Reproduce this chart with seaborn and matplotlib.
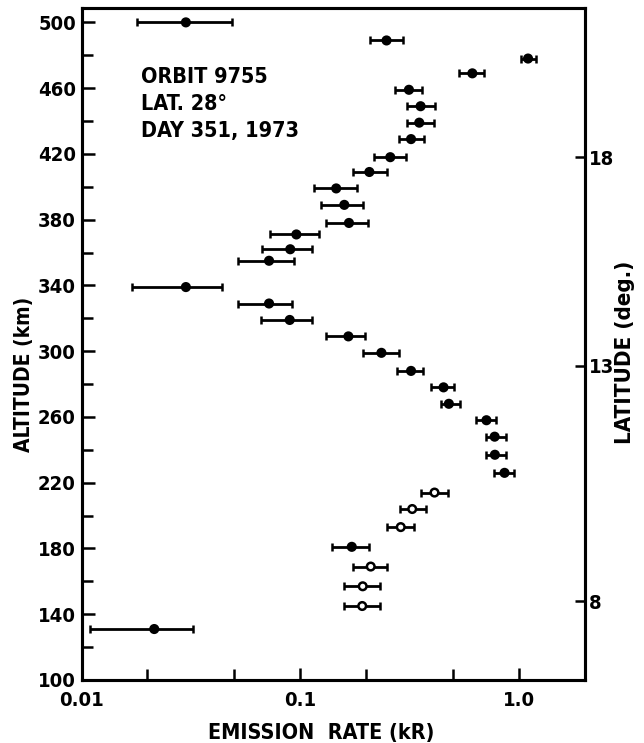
import numpy as np
import pandas as pd
import seaborn as sns
import matplotlib.pyplot as plt
from matplotlib.ticker import FixedLocator, NullFormatter, NullLocator

sns.set_style('ticks', {'axes.edgecolor': 'black', 'text.color': 'black',
                        'axes.labelcolor': 'black', 'xtick.color': 'black', 'ytick.color': 'black'})
plt.rcParams['font.family'] = ['DejaVu Sans']
plt.rcParams['font.weight'] = 'bold'
plt.rcParams['font.stretch'] = 'condensed'

# altitude (km), emission rate (kR) and error bar ends
altitude = [500, 489, 478, 469, 459, 449, 439, 429, 418, 409, 399, 389, 378, 371,
            362, 355, 339, 329, 319, 309, 299, 288, 278, 268, 258, 248, 237, 226,
            214, 204, 193, 181, 169, 157, 145, 131]
rate = [0.030, 0.248, 1.10, 0.612, 0.314, 0.355, 0.350, 0.321, 0.258, 0.207, 0.146,
        0.159, 0.167, 0.096, 0.090, 0.072, 0.030, 0.072, 0.0895, 0.166, 0.235, 0.321,
        0.452, 0.478, 0.710, 0.774, 0.776, 0.859, 0.411, 0.325, 0.288, 0.172, 0.210,
        0.193, 0.192, 0.0215]
rate_low = [0.018, 0.208, 1.022, 0.533, 0.270, 0.307, 0.307, 0.284, 0.217, 0.174, 0.115,
            0.125, 0.131, 0.0729, 0.0668, 0.0517, 0.0170, 0.0517, 0.0659, 0.1315, 0.194,
            0.278, 0.397, 0.439, 0.634, 0.707, 0.707, 0.771, 0.356, 0.287, 0.250, 0.139,
            0.174, 0.158, 0.158, 0.0109]
rate_high = [0.049, 0.294, 1.20, 0.692, 0.361, 0.411, 0.407, 0.369, 0.303, 0.248, 0.181,
             0.194, 0.204, 0.1216, 0.1135, 0.0933, 0.0437, 0.0920, 0.1135, 0.1985, 0.282,
             0.364, 0.502, 0.540, 0.788, 0.871, 0.871, 0.949, 0.475, 0.374, 0.332, 0.206,
             0.250, 0.231, 0.231, 0.0325]
open_symbol = [False] * 28 + [True, True, True, False, True, True, True, False]

# right axis: latitude marks at given altitudes
lat_labels = ['8', '13', '18']
lat_altitude = [148, 291, 418]

info_lines = ['ORBIT 9755', 'LAT. 28°', 'DAY 351, 1973']

df = pd.DataFrame({'alt': altitude, 'rate': rate, 'lo': rate_low, 'hi': rate_high,
                   'kind': ['open' if o else 'closed' for o in open_symbol]})

fig = plt.figure(figsize=(6.44, 7.43), dpi=100)
ax = fig.add_axes([0.1266, 0.0848, 0.7815, 0.905])

xerr = np.array([df['rate'] - df['lo'], df['hi'] - df['rate']])
ax.errorbar(df['rate'], df['alt'], xerr=xerr, fmt='none', ecolor='black',
            elinewidth=2.0, capsize=3, capthick=1.8, zorder=2)
sns.scatterplot(data=df, x='rate', y='alt', hue='kind', style='kind',
                palette={'closed': 'black', 'open': 'white'},
                markers={'closed': 'o', 'open': 'o'}, s=30,
                edgecolor='black', linewidth=1.8, legend=False, ax=ax, zorder=3)

ax.set_xscale('log')
ax.set_xlim(0.01, 2.0)
ax.set_ylim(100, 509)
ax.set_xticks([0.01, 0.1, 1.0])
ax.set_xticklabels(['0.01', '0.1', '1.0'])
ax.xaxis.set_minor_locator(FixedLocator([0.02, 0.05, 0.2, 0.5]))
ax.xaxis.set_minor_formatter(NullFormatter())
ax.set_yticks(np.arange(100, 501, 40))
ax.yaxis.set_minor_locator(FixedLocator(np.arange(120, 501, 40)))

ax.tick_params(which='both', direction='in', width=1.8, labelsize=14.5)
ax.tick_params(which='major', length=9)
ax.tick_params(which='minor', length=8)
ax.tick_params(axis='x', pad=8)
ax.tick_params(axis='y', pad=4)
for s in ax.spines.values():
    s.set_linewidth(2.2)

ax.set_xlabel('EMISSION  RATE (kR)', fontsize=15.5, fontweight='bold')
ax.set_ylabel('ALTITUDE (km)', fontsize=15, fontweight='bold')
ax.xaxis.set_label_coords(0.476, -0.064)
ax.yaxis.set_label_coords(-0.094, 0.454)

for i, line in enumerate(info_lines):
    ax.text(0.0187, 467 - 16.5 * i, line, fontsize=15.5, fontweight='bold', va='center', ha='left')

ax2 = ax.twinx()
ax2.set_ylim(ax.get_ylim())
ax2.set_yticks(lat_altitude)
ax2.set_yticklabels(lat_labels)
ax2.yaxis.set_minor_locator(NullLocator())
ax2.tick_params(direction='in', length=7, width=1.8, labelsize=14.5, pad=3)
ax2.set_ylabel('LATITUDE (deg.)', fontsize=16, fontweight='bold', rotation=90)
ax2.yaxis.set_label_coords(1.059, 0.488)
for s in ax2.spines.values():
    s.set_linewidth(2.2)

fig.savefig('out.png', dpi=100)
